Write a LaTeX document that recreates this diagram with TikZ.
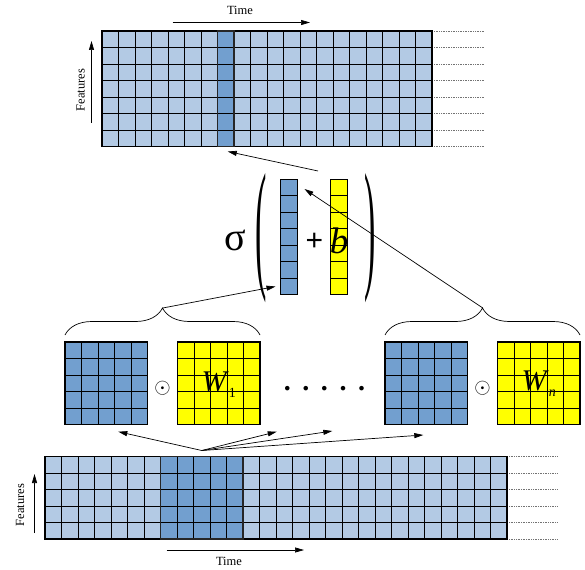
\documentclass[tikz,border=0pt]{standalone}
\usepackage{fontspec}
\setmainfont{Liberation Serif}
\setsansfont{Liberation Sans}
\usetikzlibrary{positioning,calc,arrows.meta,decorations.pathreplacing}
\definecolor{lightcell}{HTML}{B3CAE4}
\definecolor{darkcell}{HTML}{729FCF}
\definecolor{weightcell}{HTML}{FFFF00}

\tikzset{
  cellblock/.style={rectangle, inner sep=0pt, outer sep=0pt, anchor=north west},
  cellgrid/.style={draw=black, line width=0.9pt},
  cellrim/.style={draw=black!85, line width=1.6pt},
  seqtrail/.style={densely dotted, black!55, line width=0.7pt},
  kbrace/.style={decorate, decoration={brace, amplitude=27pt, aspect=0.5}, line width=0.7pt},
  arrowline/.style={-{Triangle[length=9pt,width=5pt]}, line width=0.7pt},
  axistext/.style={font=\fontsize{12.5}{14}\selectfont}
}

\begin{document}
\begin{tikzpicture}[x=1pt,y=-1pt]
    \useasboundingbox (0,0) rectangle (585,569);

    % Output sequence
    \node[cellblock, fill=lightcell, minimum width=330pt, minimum height=115.5pt] (topseq) at (102,31) {};
    \node[cellblock, fill=darkcell, minimum width=16.5pt, minimum height=115.5pt] (topcol) at (217.5,31) {};
    \draw[cellgrid, shift={(topseq.north west)}] (0,0) grid[step=16.5pt] (330,115.5);
    \draw[cellgrid, line width=1.2pt] (topseq.north west) rectangle (topseq.south east);
    \draw[cellrim] (topcol.north west) rectangle (topcol.south east);
    \foreach \r in {0,...,7}
        \draw[seqtrail] ($(topseq.north east)+(2,16.5*\r)$) -- ++(50,0);

    \node[axistext] (toptime) at (240,10) {Time};
    \coordinate (toptime0) at (172.5,22.5);
    \coordinate (toptime1) at (310,22.5);
    \draw[arrowline] (toptime0) -- (toptime1);
    \node[axistext, rotate=90] (topfeat) at (80.5,90) {Features};
    \coordinate (topfeat0) at (91.5,123);
    \coordinate (topfeat1) at (91.5,41);
    \draw[arrowline] (topfeat0) -- (topfeat1);

    % Activation of the sum
    \node (sigma) at (235,240) {\fontsize{40}{40}\selectfont σ};
    \node (lparen) at (261.5,238) {\fontsize{34}{34}\selectfont\scalebox{1}[4.2]{(}};
    \node (rparen) at (370,238) {\fontsize{34}{34}\selectfont\scalebox{1}[4.2]{)}};
    \node[cellblock, fill=darkcell, minimum width=17pt, minimum height=115.5pt] (hcol) at (280.5,179) {};
    \node[cellblock, fill=weightcell, minimum width=17pt, minimum height=115.5pt] (bcol) at (330,179) {};
    \foreach \c in {hcol,bcol}
        \draw[cellgrid, shift={(\c.north west)}] (0,0) grid[xstep=17pt, ystep=16.5pt] (17,115.5);
    \node (plus) at (314.5,241.5) {\fontsize{30}{30}\selectfont\sffamily +};
    \node[anchor=base] (bias) at (339,253.5) {\fontsize{37}{37}\selectfont\textit{b}};

    % Products with the kernels
    \node[cellblock, fill=darkcell, minimum size=82.5pt] (in1) at (65,342) {};
    \node[cellblock, fill=weightcell, minimum size=82.5pt] (w1) at (177.5,342) {};
    \node[cellblock, fill=darkcell, minimum size=82.5pt] (inn) at (385,342) {};
    \node[cellblock, fill=weightcell, minimum size=82.5pt] (wn) at (497.5,342) {};
    \foreach \m in {in1,w1,inn,wn} {
        \draw[cellgrid, shift={(\m.north west)}] (0,0) grid[step=16.5pt] (82.5,82.5);
        \draw[cellgrid, line width=1.2pt] (\m.north west) rectangle (\m.south east);
    }
    \node (odot1) at (162.5,388) {\scalebox{2.1}{$\odot$}};
    \node (odotn) at (482.5,388) {\scalebox{2.1}{$\odot$}};
    \node[anchor=base west, inner sep=0pt] (w1lab) at (201.5,391.5)
        {\fontsize{30}{30}\selectfont\textit{W}\raisebox{-6pt}{\fontsize{14}{14}\selectfont 1}};
    \node[anchor=base west, inner sep=0pt] (wnlab) at (521.5,390.5)
        {\fontsize{30}{30}\selectfont\textit{W}\raisebox{-6pt}{\fontsize{14}{14}\selectfont\textit{n}}};
    \node (gap) at (324.5,389) {\fontsize{28}{28}\selectfont\bfseries .\hspace{11.6pt}.\hspace{11.6pt}.\hspace{11.6pt}.\hspace{11.6pt}.};

    \draw[kbrace] (in1.north west) ++(0,-7) -- ($(w1.north east)+(0,-7)$);
    \draw[kbrace] (inn.north west) ++(0,-7) -- ($(wn.north east)+(0,-7)$);
    \coordinate (lbrace) at (162.8,308);
    \coordinate (rbrace) at (482.8,308);

    % Pointers
    \coordinate (sumout) at (318,171);
    \coordinate (topin) at ($(topcol.south)+(2,5)$);
    \coordinate (hin1) at ($(hcol.south west)+(-5,-8)$);
    \coordinate (hinn) at ($(hcol.north east)+(7,10)$);
    \draw[arrowline] (sumout) -- (topin);
    \draw[arrowline] (lbrace) -- (hin1);
    \draw[arrowline] (rbrace) -- (hinn);

    % Input sequence
    \node[cellblock, fill=lightcell, minimum width=462pt, minimum height=82.5pt] (botseq) at (45,456.5) {};
    \node[cellblock, fill=darkcell, minimum width=82.5pt, minimum height=82.5pt] (botwin) at (160.5,456.5) {};
    \draw[cellgrid, shift={(botseq.north west)}] (0,0) grid[step=16.5pt] (462,82.5);
    \draw[cellgrid, line width=1.2pt] (botseq.north west) rectangle (botseq.south east);
    \draw[cellrim] (botwin.north west) rectangle (botwin.south east);
    \foreach \r in {0,...,5}
        \draw[seqtrail] ($(botseq.north east)+(2,16.5*\r)$) -- ++(48,0);

    \node[axistext] (bottime) at (229,561) {Time};
    \coordinate (bottime0) at (166.5,550);
    \coordinate (bottime1) at (304,550);
    \draw[arrowline] (bottime0) -- (bottime1);
    \node[axistext, rotate=90] (botfeat) at (20,505) {Features};
    \coordinate (botfeat0) at (34.5,533);
    \coordinate (botfeat1) at (34.5,474);
    \draw[arrowline] (botfeat0) -- (botfeat1);

    % Fan out from the window
    \coordinate (fan) at ($(botwin.north)+(0,-6)$);
    \coordinate (fan1) at (118.3,431.7);
    \coordinate (fan2) at (276.7,431.7);
    \coordinate (fan3) at (332.3,431);
    \coordinate (fan4) at (423.3,435);
    \foreach \t in {fan1,fan2,fan3,fan4}
        \draw[arrowline] (fan) -- (\t);
\end{tikzpicture}
\end{document}
